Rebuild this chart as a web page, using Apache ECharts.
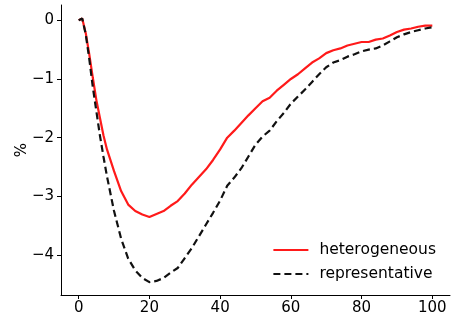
<!DOCTYPE html>
<html>
<head>
<meta charset="utf-8">
<script src="https://cdn.jsdelivr.net/npm/echarts@6/dist/echarts.min.js"></script>
<style>
  html, body { margin: 0; padding: 0; background: #fff; }
  #myChart { width: 453px; height: 322px; }
</style>
</head>
<body>
<div id="myChart"></div>
<script>
// x positions (periods)
const periods = [0, 1, 2, 3, 4, 5, 6, 7, 8, 10, 12, 14, 16, 18, 20, 22, 24, 26, 28, 30, 32, 34, 36, 38, 40,
  42, 44, 46, 48, 50, 52, 54, 56, 58, 60, 62, 64, 66, 68, 70, 72, 74, 76, 78, 80,
  82, 84, 86, 88, 90, 92, 94, 96, 98, 100]

const heterogeneous = [0, 0.03, -0.22, -0.58, -0.98, -1.36, -1.66, -1.96, -2.20, -2.57, -2.91, -3.14, -3.25, -3.31, -3.35,
  -3.30, -3.25, -3.16, -3.08, -2.95, -2.80, -2.67, -2.54, -2.38, -2.20,
  -2.00, -1.88, -1.75, -1.62, -1.50, -1.38, -1.32, -1.20, -1.10, -1.00,
  -0.92, -0.82, -0.72, -0.65, -0.56, -0.51, -0.48, -0.43, -0.40, -0.37,
  -0.37, -0.33, -0.31, -0.26, -0.20, -0.16, -0.14, -0.11, -0.09, -0.09]

const representative = [0, 0.03, -0.24, -0.66, -1.14, -1.55, -1.96, -2.32, -2.66, -3.25, -3.72, -4.06, -4.26, -4.39, -4.46,
  -4.44, -4.39, -4.30, -4.22, -4.05, -3.88, -3.68, -3.48, -3.28, -3.07,
  -2.82, -2.68, -2.52, -2.32, -2.12, -1.98, -1.88, -1.72, -1.58, -1.42,
  -1.30, -1.18, -1.05, -0.92, -0.80, -0.72, -0.68, -0.62, -0.58, -0.53,
  -0.50, -0.48, -0.43, -0.36, -0.29, -0.24, -0.20, -0.17, -0.14, -0.12]

const xTicks = [0, 20, 40, 60, 80, 100]
const yTicks = [0, -1, -2, -3, -4]

const pairs = (ys) => periods.map((x, i) => [x, ys[i]])

const chart = echarts.init(document.getElementById('myChart'))
const font = 'DejaVu Sans'

const options = {
  animation: false,
  textStyle: { fontFamily: font },
  grid: { left: 61, right: 3, top: 5, bottom: 27 },
  xAxis: {
    type: 'value',
    min: -5,
    max: 105,
    splitLine: { show: false },
    axisLine: { onZero: false, lineStyle: { color: '#000', width: 1 } },
    axisTick: { customValues: xTicks, length: 4, lineStyle: { color: '#000' } },
    axisLabel: { customValues: xTicks, color: '#000', fontSize: 15, margin: 6, fontFamily: font }
  },
  yAxis: {
    type: 'value',
    min: -4.68,
    max: 0.26,
    name: '%',
    nameLocation: 'middle',
    nameGap: 31,
    nameMoveOverlap: false,
    nameRotate: 90,
    nameTextStyle: { color: '#000', fontSize: 15, fontFamily: font },
    splitLine: { show: false },
    axisLine: { show: true, onZero: false, lineStyle: { color: '#000', width: 1 } },
    axisTick: { show: true, customValues: yTicks, length: 4, lineStyle: { color: '#000' } },
    axisLabel: { customValues: yTicks, color: '#000', fontSize: 15, margin: 7, fontFamily: font,
      formatter: (v) => (v < 0 ? '\u2212' + Math.abs(v) : String(v)) }
  },
  legend: {
    orient: 'vertical',
    right: 12,
    bottom: 35,
    itemWidth: 35,
    itemHeight: 10,
    itemGap: 8,
    itemStyle: { opacity: 0 },
    textStyle: { color: '#000', fontSize: 15.5, fontFamily: font, padding: [0, 0, 0, 6] },
    data: ['heterogeneous', 'representative']
  },
  series: [
    {
      name: 'heterogeneous',
      type: 'line',
      data: pairs(heterogeneous),
      showSymbol: false,
      symbol: 'none',
      lineStyle: { color: '#ff1a1a', width: 2.2 },
      itemStyle: { color: '#ff1a1a' }
    },
    {
      name: 'representative',
      type: 'line',
      data: pairs(representative),
      showSymbol: false,
      symbol: 'none',
      lineStyle: { color: '#111', width: 2.2, type: [7, 4] },
      itemStyle: { color: '#111' }
    }
  ]
}

chart.setOption(options)
</script>
</body>
</html>
